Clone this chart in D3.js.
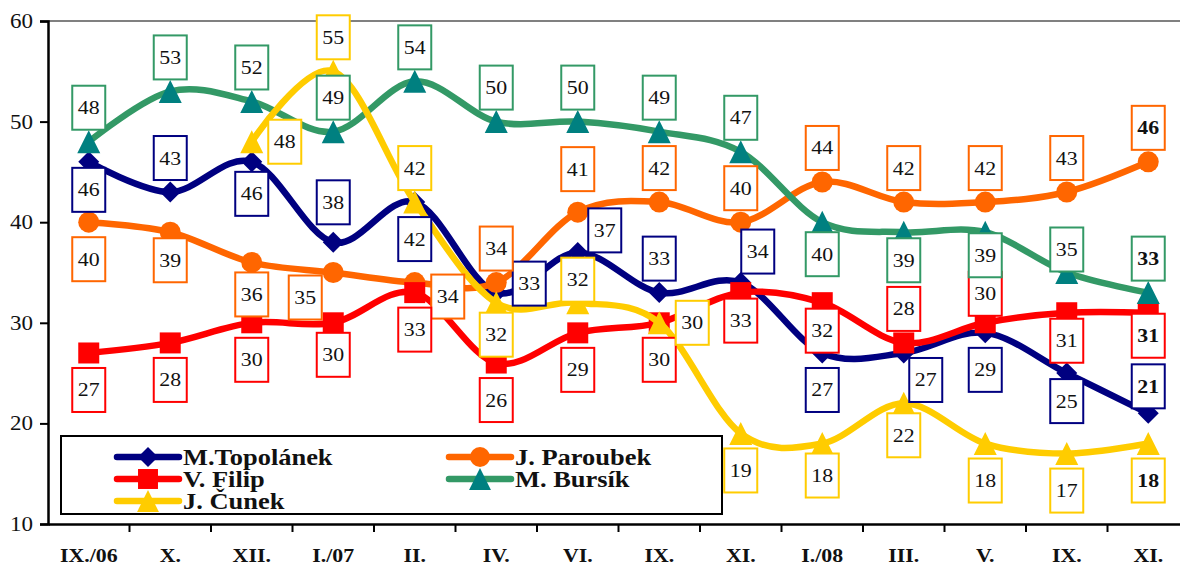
<!DOCTYPE html>
<html>
<head>
<meta charset="utf-8">
<script src="https://cdn.jsdelivr.net/npm/d3@7"></script>
<style>
  body { margin: 0; background: #fff; }
</style>
</head>
<body>
<div id="chart"></div>
<script>
// categories and values
var months = ["IX./06", "X.", "XII.", "I./07", "II.", "IV.", "VI.", "IX.", "XI.", "I./08", "III.", "V.", "IX.", "XI."];
var topolanek = [46, 43, 46, 38, 42, 33, 37, 33, 34, 27, 27, 29, 25, 21];
var paroubek  = [40, 39, 36, 35, 34, 34, 41, 42, 40, 44, 42, 42, 43, 46];
var filip     = [27, 28, 30, 30, 33, 26, 29, 30, 33, 32, 28, 30, 31, 31];
var bursik    = [48, 53, 52, 49, 54, 50, 50, 49, 47, 40, 39, 39, 35, 33];
var cunek     = [null, null, 48, 55, 42, 32, 32, 30, 19, 18, 22, 18, 17, 18];
var yTicks = [10, 20, 30, 40, 50, 60];

// label placement per point (t = above, b = below, r = right ...)
var posTopolanek = ["bs","t","b2","t5","b","r1","r2","t","tr","b","br","b","bs","t6"];
var posParoubek  = ["b","bs","b2","bl","rb","t","t4","t","t","t","t","t","t","t"];
var posFilip     = ["b","b","b","b2","b","b","b","b","bs","bs","t","t7","bs","b5"];
var posBursik    = ["t","t","t","t","t","t","t","t","t","b2","bs","b5","t2","t"];
var posCunek     = [null,null,"r","t","t","b2","t2","r","b","b2","b2","b","b","b"];

var offsets = {
  t: [0, -34], t2: [0, -23], t4: [0, -43], t5: [0, -40], t6: [0, -27], t7: [0, -29],
  b: [0, 37], b2: [0, 32], bs: [0, 28], b5: [0, 23],
  r: [33, 0], r1: [33, -9], r2: [27, -22],
  tr: [17, -31], br: [22, 27], bl: [-28, 25], rb: [33, 14]
};

var series = [
  {name: "M.Topolánek", values: topolanek, pos: posTopolanek, line: "#000080", fill: "#000080", box: "#000080", shape: "diamond"},
  {name: "J. Paroubek", values: paroubek, pos: posParoubek, line: "#FF6600", fill: "#FF6600", box: "#FF6600", shape: "circle"},
  {name: "V. Filip", values: filip, pos: posFilip, line: "#FF0000", fill: "#FF0000", box: "#FF0000", shape: "square"},
  {name: "M. Bursík", values: bursik, pos: posBursik, line: "#339966", fill: "#008080", box: "#339966", shape: "triangle"},
  {name: "J. Čunek", values: cunek, pos: posCunek, line: "#FFCC00", fill: "#FFCC00", box: "#FFCC00", shape: "triangle"}
];

var W = 1180, H = 566;
var sx = 1.15; // the picture is a little wider than tall
var serif = "'Liberation Serif', 'Times New Roman', serif";

var svg = d3.select("#chart").append("svg")
    .attr("width", W)
    .attr("height", H);

// months repeat (IX., XI.), so the band scale runs on indexes
var idx = d3.range(months.length);
var x = d3.scaleBand().domain(idx).range([48, 1189]);
var y = d3.scaleLinear().domain([10, 60]).range([524, 21]);
function cx(i) { return x(i) + x.bandwidth() / 2; }

// stretched text helper
function sText(g, px, py, str, size, weight, anchor) {
  return g.append("g")
    .attr("transform", "translate(" + px + "," + py + ") scale(" + sx + ",1)")
    .append("text")
    .attr("text-anchor", anchor || "middle")
    .style("font-family", serif)
    .style("font-size", size + "px")
    .style("font-weight", weight || "normal")
    .attr("fill", "#111")
    .text(str);
}

// top border
svg.append("line")
  .attr("x1", 48).attr("x2", W).attr("y1", y(60)).attr("y2", y(60))
  .attr("stroke", "#808080").attr("stroke-width", 2);

// y axis
var yAxis = svg.append("g")
  .attr("transform", "translate(48,0)")
  .call(d3.axisLeft(y).tickValues(yTicks).tickSize(8).tickFormat(""));
yAxis.select(".domain").attr("stroke", "#000").attr("stroke-width", 2.5);
yAxis.selectAll(".tick line").attr("stroke", "#000").attr("stroke-width", 2);
yTicks.forEach(function(t) {
  sText(svg, 33, y(t) + 7, t, 20, "normal", "end");
});

// x axis
var xAxis = svg.append("g")
  .attr("transform", "translate(0," + y(10) + ")")
  .call(d3.axisBottom(x).tickSize(0).tickFormat(""));
xAxis.select(".domain").attr("stroke", "#000").attr("stroke-width", 2.5);
idx.forEach(function(i) {
  if (i > 0) {
    svg.append("line")
      .attr("x1", x(i)).attr("x2", x(i))
      .attr("y1", y(10)).attr("y2", y(10) + 8)
      .attr("stroke", "#000").attr("stroke-width", 2);
  }
  sText(svg, cx(i), 562, months[i], 19, "bold");
});

// marker shapes
function marker(g, shape, px, py, color, k) {
  k = k || 1;
  if (shape == "circle") {
    g.append("circle").attr("cx", px).attr("cy", py).attr("r", 10.5 * k).attr("fill", color);
  } else if (shape == "square") {
    g.append("rect").attr("x", px - 10.5 * k).attr("y", py - 10.5 * k)
      .attr("width", 21 * k).attr("height", 21 * k).attr("fill", color);
  } else if (shape == "diamond") {
    var d = 10.5 * k;
    g.append("path").attr("d", "M" + px + "," + (py - d) + "L" + (px + d) + "," + py +
      "L" + px + "," + (py + d) + "L" + (px - d) + "," + py + "Z").attr("fill", color);
  } else {
    var w = 11.5 * k, h = 11.5 * k;
    g.append("path").attr("d", "M" + px + "," + (py - h) + "L" + (px + w) + "," + (py + h) +
      "L" + (px - w) + "," + (py + h) + "Z").attr("fill", color);
  }
}

var line = d3.line()
  .defined(function(d) { return d != null; })
  .x(function(d, i) { return cx(i); })
  .y(function(d) { return y(d); })
  .curve(d3.curveCardinal.tension(0));

var plot = svg.append("g");
series.forEach(function(s) {
  plot.append("path")
    .attr("d", line(s.values))
    .attr("fill", "none")
    .attr("stroke", s.line)
    .attr("stroke-width", 6.5)
    .attr("stroke-linejoin", "round")
    .attr("stroke-linecap", "round");
  s.values.forEach(function(v, i) {
    if (v != null) marker(plot, s.shape, cx(i), y(v), s.fill);
  });
});

// value labels
var labels = svg.append("g");
series.forEach(function(s) {
  s.values.forEach(function(v, i) {
    if (v == null) return;
    var o = offsets[s.pos[i]];
    var lx = cx(i) + o[0], ly = y(v) + o[1];
    labels.append("rect")
      .attr("x", lx - 16.5).attr("y", ly - 22)
      .attr("width", 33).attr("height", 44)
      .attr("fill", "#fff")
      .attr("stroke", s.box)
      .attr("stroke-width", 2);
    sText(labels, lx, ly + 6.5, v, 19, i == months.length - 1 ? "bold" : "normal");
  });
});

// legend
var legend = svg.append("g");
legend.append("rect")
  .attr("x", 61).attr("y", 436).attr("width", 661).attr("height", 78)
  .attr("fill", "#fff").attr("stroke", "#000").attr("stroke-width", 2);

var legPos = [[148, 457], [480, 457], [148, 479], [480, 479], [148, 501]];
series.forEach(function(s, i) {
  var p = legPos[i];
  legend.append("line")
    .attr("x1", p[0] - 31).attr("x2", p[0] + 31)
    .attr("y1", p[1]).attr("y2", p[1])
    .attr("stroke", s.line).attr("stroke-width", 6.5)
    .attr("stroke-linecap", "round");
  marker(legend, s.shape, p[0], p[1], s.fill, 0.95);
  sText(legend, p[0] + 35, p[1] + 8, s.name, 23, "bold", "start");
});
</script>
</body>
</html>
